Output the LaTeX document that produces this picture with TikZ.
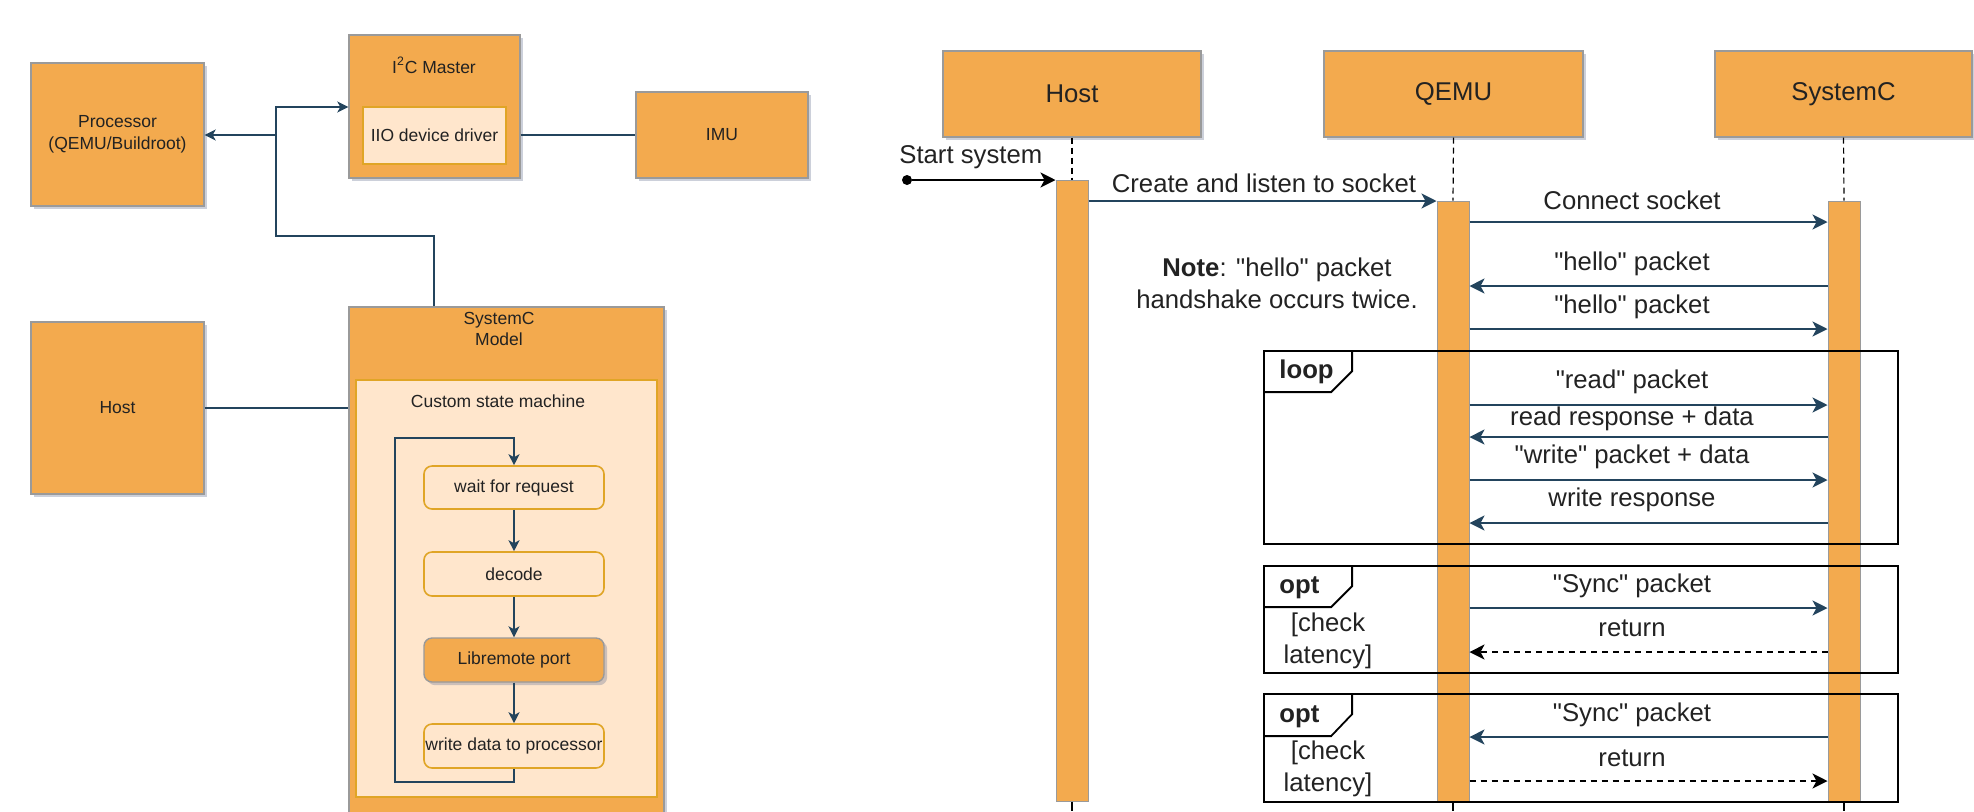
\documentclass[tikz,border=0pt]{standalone}
\usepackage{fontspec}
\setmainfont{Liberation Sans}[Ligatures=TeXOff]
\usetikzlibrary{arrows.meta,fit,shadows}
\definecolor{org}{RGB}{243,170,78}
\definecolor{lite}{HTML}{FFE6CC}
\definecolor{gold}{HTML}{E0A526}
\definecolor{edgegray}{HTML}{9A9A9A}
\definecolor{cdark}{HTML}{23445D}
\definecolor{txtc}{HTML}{222222}
\definecolor{shadowc}{RGB}{110,120,150}
\begin{document}
\begin{tikzpicture}[x=0.5pt,y=-0.5pt,
  lfont/.style={font=\fontsize{8.75}{10.8}\selectfont},
  rfont/.style={font=\fontsize{12.85}{15.8}\selectfont},
  shad/.style={drop shadow={shadow xshift=1.6pt,shadow yshift=-1.6pt,opacity=0.35,fill=shadowc}},
  obox/.style={draw=edgegray, fill=org, line width=0.7pt, inner sep=0pt, text=txtc, align=center, shad},
  lbox/.style={draw=gold, fill=lite, line width=0.8pt, inner sep=0pt, text=txtc, align=center},
  sbox/.style={lbox, rounded corners=4pt},
  lbl/.style={text=txtc, align=center, inner sep=0pt},
  conline/.style={draw=cdark, line width=0.8pt},
  carrow/.style={conline, -{Stealth[length=5.5pt,width=5.5pt,inset=1.5pt]}},
  bar/.style={draw=edgegray, fill=org, line width=0.5pt, inner sep=0pt},
  life/.style={draw=black, line width=0.6pt, dash pattern=on 3pt off 2pt},
  msg/.style={draw=cdark, line width=1pt, -{Stealth[length=7.5pt,width=7.5pt,inset=2pt]}},
  ret/.style={draw=black, line width=0.9pt, dash pattern=on 3pt off 2.5pt, -{Stealth[length=7.5pt,width=7.5pt,inset=2pt]}},
  frm/.style={draw=black, line width=0.9pt, inner sep=0pt},
  tab/.style={draw=black, line width=0.9pt}
]
\useasboundingbox (0,0) rectangle (1974,811);

% ---------------- left diagram ----------------
\node[obox, lfont, fit={(31,63)(204,206)}] (proc) {};
\node[lbl, lfont] at (proc.center) {Processor\\(QEMU/Buildroot)};
\node[obox, fit={(349,35)(520,178)}] (i2c) {};
\node[lbl, lfont] (i2clbl) at (434,65) {I\textsuperscript{2}C Master};
\node[lbox, lfont, fit={(363,107)(506,164)}] (iio) {};
\node[lbl, lfont] at (iio.center) {IIO device driver};
\node[obox, fit={(636,92)(808,178)}] (imu) {};
\node[lbl, lfont] at (imu.center) {IMU};
\node[obox, fit={(31,322)(204,494)}] (hostL) {};
\node[lbl, lfont] at (hostL.center) {Host};
\node[obox, fit={(349,307)(664,830)}] (scm) {};
\node[lbl, lfont] (scmlbl) at (499,329) {SystemC\\Model};
\node[lbox, fit={(356,380)(657,797)}] (csm) {};
\node[lbl, lfont] (csmlbl) at (498,401) {Custom state machine};

\node[sbox, lfont, fit={(424,466)(604,509)}] (wait) {};
\node[lbl, lfont] at (wait.center) {wait for request};
\node[sbox, lfont, fit={(424,552)(604,596)}] (dec) {};
\node[lbl, lfont] at (dec.center) {decode};
\node[obox, rounded corners=4pt, fit={(424,638)(604,682)}] (lib) {};
\node[lbl, lfont] at (lib.center) {Libremote port};
\node[sbox, lfont, fit={(424,724)(604,768)}] (wr) {};
\node[lbl, lfont] at (wr.center) {write data to processor};

\draw[carrow] (wait.south) -- (dec.north);
\draw[carrow] (dec.south) -- (lib.north);
\draw[carrow] (lib.south) -- (wr.north);
\coordinate (lp1) at (514,782);
\coordinate (lp2) at (395,782);
\coordinate (lp3) at (395,438);
\coordinate (lp4) at (514,438);
\draw[carrow] (wr.south) -- (lp1) -- (lp2) -- (lp3) -- (lp4) -- (wait.north);

\coordinate (j1) at (434,236);
\coordinate (j2) at (276,236);
\coordinate (j3) at (276,107);
\coordinate (j4) at (276,135);
\draw[carrow] (scm.north -| j1) -- (j1) -- (j2) -- (j3) -- (i2c.west |- j3);
\draw[carrow] (j4) -- (proc.east |- j4);
\draw[conline] (i2c.east |- imu.west) -- (imu.west);
\draw[conline] (hostL.east) -- (hostL.east -| scm.west);

% ---------------- sequence diagram ----------------
\node[obox, fit={(943,51)(1201,137)}] (hostH) {};
\node[lbl, rfont] at (hostH.center) {Host};
\node[obox, fit={(1324,51)(1583,137)}] (qemuH) {};
\node[lbl, rfont] at (qemuH.center) {QEMU};
\node[obox, fit={(1715,51)(1972,137)}] (scH) {};
\node[lbl, rfont] at (scH.center) {SystemC};

\node[bar, fit={(1056,180)(1088,801)}] (hostBar) {};
\node[bar, fit={(1437,201)(1469,801)}] (qemuBar) {};
\node[bar, fit={(1828,201)(1860,801)}] (scBar) {};

\draw[life] (hostH.south) -- (hostBar.north);
\draw[life] (qemuH.south) -- (qemuBar.north);
\draw[life] (scH.south) -- (scBar.north);
\coordinate (hEnd) at (1072,811);
\coordinate (qEnd) at (1453,811);
\coordinate (sEnd) at (1844,811);
\draw[draw=black, line width=0.6pt] (hostBar.south) -- (hEnd);
\draw[draw=black, line width=0.6pt] (qemuBar.south) -- (qEnd);
\draw[draw=black, line width=0.6pt] (scBar.south) -- (sEnd);

% frames
\node[frm, fit={(1264,351)(1898,544)}] (loopF) {};
\draw[tab] (loopF.north west) ++(89,0) -- ++(0,21) -- ++(-21,21) -- ++(-68,0);
\node[font=\bfseries\fontsize{12.85}{15.8}\selectfont, anchor=west, inner sep=0pt, text=txtc] (loopT) at (1279,372) {loop};

\node[frm, fit={(1264,566)(1898,673)}] (opt1F) {};
\draw[tab] (opt1F.north west) ++(89,0) -- ++(0,21) -- ++(-21,21) -- ++(-68,0);
\node[font=\bfseries\fontsize{12.85}{15.8}\selectfont, anchor=west, inner sep=0pt, text=txtc] (opt1T) at (1279,588) {opt};
\node[lbl, rfont] (opt1G) at (1328,641) {[check\\latency]};

\node[frm, fit={(1264,694)(1898,802)}] (opt2F) {};
\draw[tab] (opt2F.north west) ++(89,0) -- ++(0,21) -- ++(-21,22) -- ++(-68,0);
\node[font=\bfseries\fontsize{12.85}{15.8}\selectfont, anchor=west, inner sep=0pt, text=txtc] (opt2T) at (1279,717) {opt};
\node[lbl, rfont] (opt2G) at (1328,769) {[check\\latency]};

% messages
\node[circle, fill=black, inner sep=0pt, minimum size=5pt] (start) at (907,180) {};
\draw[draw=black, line width=1pt, -{Stealth[length=7.5pt,width=7.5pt,inset=2pt]}] (start) -- (hostBar.west |- start);
\node[lbl, rfont, anchor=west] (startL) at (899,157) {Start system};

\draw[msg] (hostBar.east |- 0,201) -- (qemuBar.west |- 0,201);
\node[lbl, rfont] (m1) at (1264,183) {Create and listen to socket};

\draw[msg] (qemuBar.east |- 0,222) -- (scBar.west |- 0,222);
\node[lbl, rfont] (m2) at (1632,200) {Connect socket};

\node[lbl, rfont] (note) at (1277,283) {\textbf{Note}: "hello" packet\\handshake occurs twice.};

\draw[msg] (scBar.west |- 0,286) -- (qemuBar.east |- 0,286);
\node[lbl, rfont] (m3) at (1632,264) {"hello" packet};
\draw[msg] (qemuBar.east |- 0,329) -- (scBar.west |- 0,329);
\node[lbl, rfont] (m4) at (1632,307) {"hello" packet};

\draw[msg] (qemuBar.east |- 0,405) -- (scBar.west |- 0,405);
\node[lbl, rfont] (m5) at (1632,382) {"read" packet};
\draw[msg] (scBar.west |- 0,437) -- (qemuBar.east |- 0,437);
\node[lbl, rfont] (m6) at (1632,419) {read response + data};
\draw[msg] (qemuBar.east |- 0,480) -- (scBar.west |- 0,480);
\node[lbl, rfont] (m7) at (1632,457) {"write" packet + data};
\draw[msg] (scBar.west |- 0,523) -- (qemuBar.east |- 0,523);
\node[lbl, rfont] (m8) at (1632,500) {write response};

\draw[msg] (qemuBar.east |- 0,608) -- (scBar.west |- 0,608);
\node[lbl, rfont] (m9) at (1632,586) {"Sync" packet};
\draw[ret] (scBar.west |- 0,652) -- (qemuBar.east |- 0,652);
\node[lbl, rfont] (m10) at (1632,628) {return};

\draw[msg] (scBar.west |- 0,737) -- (qemuBar.east |- 0,737);
\node[lbl, rfont] (m11) at (1632,715) {"Sync" packet};
\draw[ret] (qemuBar.east |- 0,781) -- (scBar.west |- 0,781);
\node[lbl, rfont] (m12) at (1632,758) {return};
\end{tikzpicture}
\end{document}
